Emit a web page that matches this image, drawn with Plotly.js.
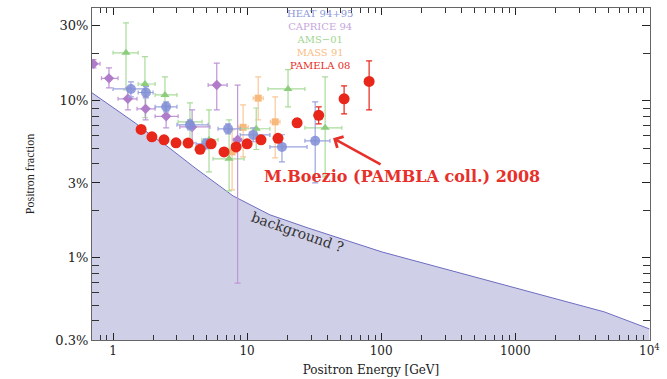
<!DOCTYPE html>
<html>
<head>
<meta charset="utf-8">
<script src="https://cdn.plot.ly/plotly-3.0.1.min.js"></script>
<style>html,body{margin:0;padding:0;background:#fff;}#chart{width:667px;height:379px;}</style>
</head>
<body>
<div id="chart"></div>
<script>
// Background (secondary production) curve
const bgE = [0.697,1.46,1.95,2.57,4.09,7.86,14.8,28.5,101.7,363,1294,4613,10000];
const bgF = [11.25,7.24,5.98,5.09,3.74,2.48,1.88,1.55,1.09,0.815,0.607,0.453,0.353];

// HEAT 94+95
const heatE   = [1.36,1.76,2.49,3.75,4.94,7.21,11.1,18.2,32.2];
const heatF   = [11.9,11.3,9.16,7.03,5.32,6.63,6.07,5.09,5.56];
const heatELo = [1.0,1.54,2.06,3.0,4.16,6.07,8.88,14.8,27.0];
const heatEHi = [1.73,1.99,3.0,5.12,5.76,8.88,14.8,28.0,41.5];
const heatFLo = [10.6,10.45,8.51,6.54,4.95,6.16,5.49,4.09,3.0];
const heatFHi = [13.2,12.3,9.85,7.57,5.73,7.14,6.73,6.08,9.85];

// CAPRICE 94
const capE   = [0.715,0.933,1.29,1.75,2.49,3.89,5.94,8.5];
const capF   = [17.2,13.9,10.3,8.89,7.97,6.82,12.6,5.65];
const capELo = [0.69,0.82,1.09,1.51,2.06,3.15,5.12,7.9];
const capEHi = [0.80,1.09,1.51,2.06,3.06,5.28,7.1,9.1];
const capFLo = [16.2,12.1,8.76,7.57,6.73,5.4,8.76,0.69];
const capFHi = [18.3,16.2,12.1,10.6,9.3,8.76,17.4,12.6];

// AMS-01
const amsE   = [1.25,1.73,2.44,3.75,5.2,7.34,11.7,20.2,38.2];
const amsF   = [20.2,12.8,10.9,7.35,5.65,4.27,6.64,11.9,6.73];
const amsELo = [1.0,1.54,2.06,3.06,4.6,5.57,8.9,14.3,27.0];
const amsEHi = [1.54,2.06,3.0,4.61,6.07,9.5,14.8,27.0,50.9];
const amsFLo = [11.75,7.8,8.1,5.1,3.53,2.67,4.9,9.16,3.28];
const amsFHi = [31.4,19.1,14.2,9.7,8.76,7.57,9.0,15.8,14.2];

// MASS 91
const massE   = [7.73,9.34,12.1,16.2];
const massF   = [4.73,6.78,10.4,7.35];
const massELo = [7.1,8.6,11.1,14.9];
const massEHi = [8.4,10.2,13.2,17.6];
const massFLo = [2.71,4.4,7.57,4.33];
const massFHi = [6.54,9.43,14.2,10.6];

// PAMELA 08
const pamE  = [1.62,1.95,2.40,2.95,3.63,4.46,5.39,6.73,8.28,10.0,12.7,17.0,23.6,34.2,52.9,81.3];
const pamF  = [6.58,5.90,5.65,5.40,5.38,4.91,5.32,4.73,5.09,5.32,5.65,5.77,7.24,8.09,10.3,13.3];
const pamLo = [6.45,5.80,5.55,5.30,5.28,4.82,5.22,4.63,4.98,5.20,5.52,5.62,6.83,7.14,8.27,8.76];
const pamHi = [6.71,6.00,5.75,5.50,5.48,5.00,5.42,4.83,5.20,5.44,5.78,5.92,7.68,9.16,12.46,17.98];

// axis ticks
const yTickVals = [0.3,1,3,10,30];
const yTickText = ['0.3%','1%','3%','10%','30%'];
const yMinor = [0.4,0.5,0.6,0.7,0.8,0.9,2,4,5,6,7,8,9,20];
const xTickVals = [1,10,100,1000,10000];
const xTickText = ['1','10','100','1000','10<sup>4</sup>'];
const xMinor = [0.7,0.8,0.9,2,3,4,5,6,7,8,9,20,30,40,50,60,70,80,90,200,300,400,500,600,700,800,900,2000,3000,4000,5000,6000,7000,8000,9000];

const legendNames = ['HEAT 94+95','CAPRICE 94','AMS\u221201','MASS 91','PAMELA 08'];
const legendColors = ['#8c97d9','#c6a6dc','#9fd68f','#f9bd85','#e8291c'];

function diff(a,b){return a.map((v,i)=>v-b[i]);}

function series(E,F,ELo,EHi,FLo,FHi,symbol,size,mcol,ecol,hasX){
  const t = {
    x:E, y:F, type:'scatter', mode:'markers', showlegend:false,
    marker:{symbol:symbol,size:size,color:mcol,line:{width:0}},
    error_y:{type:'data',symmetric:false,array:diff(FHi,F),arrayminus:diff(F,FLo),color:ecol,thickness:1.2,width:3}
  };
  if(hasX){
    t.error_x={type:'data',symmetric:false,array:diff(EHi,E),arrayminus:diff(E,ELo),color:ecol,thickness:1.2,width:2};
  }
  return t;
}

const traces = [
  {x:bgE,y:bgF,type:'scatter',mode:'lines',fill:'tozeroy',fillcolor:'#d0cfe8',
   line:{color:'#6c6cc0',width:1},showlegend:false,hoverinfo:'skip'},
  series(massE,massF,massELo,massEHi,massFLo,massFHi,'square',7,'#f8b97c','#f9c99a',true),
  series(amsE,amsF,amsELo,amsEHi,amsFLo,amsFHi,'triangle-up',8,'#8ccd7b','#a9dc9b',true),
  series(capE,capF,capELo,capEHi,capFLo,capFHi,'diamond',8,'#b07cca','#bf96d6',true),
  series(heatE,heatF,heatELo,heatEHi,heatFLo,heatFHi,'circle',10,'rgba(128,142,214,0.85)','#9aa4dd',true),
  series(pamE,pamF,pamE,pamE,pamLo,pamHi,'circle',11,'#e8261a','#e8261a',false)
];

const legendText = legendNames.map((n,i)=>'<span style="color:'+legendColors[i]+'">'+n+'</span>').join('<br>');

const annotations = [
  {xref:'paper',yref:'paper',x:0.409,y:0.905,text:legendText,showarrow:false,align:'center',
   xanchor:'center',yanchor:'middle',font:{family:'DejaVu Serif',size:10,color:'#888'}},
  {xref:'paper',yref:'paper',x:0.556,y:0.492,text:'M.Boezio (PAMBLA coll.) 2008',showarrow:false,
   xanchor:'center',yanchor:'middle',font:{family:'DejaVu Serif',size:16,weight:'bold',color:'#e8302a'}},
  {xref:'paper',yref:'paper',x:0.432,y:0.608,text:'',showarrow:true,ax:49,ay:27,
   arrowcolor:'#e8302a',arrowwidth:2.5,arrowhead:4,arrowsize:1},
  {xref:'paper',yref:'paper',x:0.368,y:0.324,text:'background ?',showarrow:false,textangle:19,
   xanchor:'center',yanchor:'middle',font:{family:'DejaVu Serif',size:14,color:'#333'}}
];

const tickFont = {family:'DejaVu Serif',size:12,color:'#222'};

const layout = {
  width:667,height:379,
  margin:{l:92,r:17,t:8,b:39},
  paper_bgcolor:'#fff',plot_bgcolor:'#fff',
  showlegend:false,
  xaxis:{type:'log',range:[Math.log10(0.697),4.005],tickmode:'array',tickvals:xTickVals,ticktext:xTickText,
    ticks:'inside',ticklen:7,tickcolor:'#222',showline:true,linecolor:'#666',linewidth:1,mirror:'ticks',
    showgrid:false,zeroline:false,tickfont:tickFont,
    minor:{tickmode:'array',tickvals:xMinor,ticks:'inside',ticklen:5,tickcolor:'#333',showgrid:false},
    title:{text:'Positron Energy [GeV]',font:{family:'DejaVu Serif',size:12,color:'#222'},standoff:8}},
  yaxis:{type:'log',range:[Math.log10(0.3),Math.log10(39)],tickmode:'array',tickvals:yTickVals,ticktext:yTickText,
    ticks:'inside',ticklen:8,tickcolor:'#222',showline:true,linecolor:'#666',linewidth:1,mirror:'ticks',
    showgrid:false,zeroline:false,tickfont:{family:'DejaVu Serif',size:13,color:'#222'},
    minor:{tickmode:'array',tickvals:yMinor,ticks:'inside',ticklen:7,tickcolor:'#333',showgrid:false},
    title:{text:'Positron fraction',font:{family:'Liberation Serif',size:12,color:'#222'},standoff:18}},
  annotations:annotations
};

Plotly.newPlot('chart',traces,layout,{displayModeBar:false,staticPlot:true});
</script>
</body>
</html>
